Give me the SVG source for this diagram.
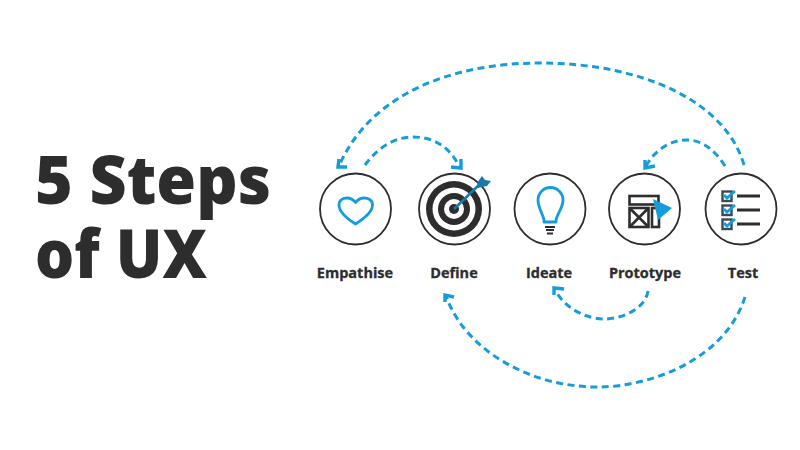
<svg xmlns="http://www.w3.org/2000/svg" width="800" height="450" viewBox="0 0 800 450">
<style>
.t{font-family:"Open Sans","Noto Sans","Liberation Sans",sans-serif;font-weight:800;fill:#2d2d2d}
.h{font-size:67px}
.l{font-size:14.5px;font-weight:700;text-anchor:middle;stroke:#2d2d2d;stroke-width:.3}
.c{fill:#fff;stroke:#2d2d2d;stroke-width:1.8}
.d{fill:none;stroke:#149cdb;stroke-width:3;stroke-dasharray:7 4.5}
.a{fill:none;stroke:#149cdb;stroke-width:3.4}
.ic{fill:none;stroke:#149cdb;stroke-width:2.8;stroke-linejoin:round}
.k{fill:none;stroke:#2d2d2d;stroke-width:2.6}
</style>
<rect width="800" height="450" fill="#fff"/>
<g id="title">
<text class="t h" x="35" y="204" textLength="236" lengthAdjust="spacingAndGlyphs">5 Steps</text>
<text class="t h" x="35" y="278" textLength="172" lengthAdjust="spacingAndGlyphs">of UX</text>
</g>
<g id="connectors">
<path class="d" d="M744 165C725 100 640 63 540 63C450 63 370 95 339 166"/>
<path class="a" d="M339 159L338 167L347 167"/>
<path class="d" d="M365 165C378 147 395 137 413 137C435 137 450 148 459 166"/>
<path class="a" d="M451 167L461 168L461 159"/>
<path class="d" d="M725 166C715 150 702 140 687 140C670 140 655 150 646 166"/>
<path class="a" d="M645 160L645 168L655 166"/>
<path class="d" d="M745 297C725 360 650 387 597 387C530 387 465 350 446 296"/>
<path class="a" d="M445 302L445 295L454 297"/>
<path class="d" d="M648 291C645 310 620 319 605 319C585 319 565 308 555 290"/>
<path class="a" d="M554 295L554 288L564 289"/>
</g>
<g id="empathise">
<circle class="c" cx="355.500" cy="209" r="35.500"/>
<path class="ic" d="M355.500 224C346 218 339 212 339 205C339 200 343 198 347 198C350.500 198 353.500 200 355.500 202.500C357.500 200 360.500 198 364 198C368.500 198 372.500 200 372.500 205C372.500 212 365 218 355.500 224Z"/>
<text class="t l" x="355" y="278">Empathise</text>
</g>
<g id="define">
<circle class="c" cx="454.500" cy="209" r="35.500"/>
<circle cx="454" cy="209" r="28" fill="#2d2d2d"/>
<circle cx="454" cy="209" r="21.500" fill="#fff"/>
<circle cx="454" cy="209" r="16" fill="#2d2d2d"/>
<circle cx="454" cy="209" r="10" fill="#fff"/>
<circle cx="454" cy="209" r="5" fill="#2d2d2d"/>
<path d="M454 209L480 184" fill="none" stroke="#1779a8" stroke-width="2.600"/>
<path d="M478 188L477 183L482 176L485 180L491 181L487 186L482 187Z" fill="#1779a8"/>
<text class="t l" x="454" y="278">Define</text>
</g>
<g id="ideate">
<circle class="c" cx="550" cy="209" r="35.500"/>
<path class="ic" d="M544 222L544 220C543 214 538 208 538 200A12.500 12.500 0 0 1 563 200C563 208 557 214 556 220L556 222Z"/>
<path d="M545 227H555M546 230H554M547 233.500H553" fill="none" stroke="#2d2d2d" stroke-width="2"/>
<text class="t l" x="549" y="278">Ideate</text>
</g>
<g id="prototype">
<circle class="c" cx="644.500" cy="209" r="35.500"/>
<rect class="k" x="629.500" y="196" width="29" height="8.500"/>
<rect class="k" x="629.500" y="208" width="19" height="19"/>
<path class="k" d="M629.500 208L648.500 227M648.500 208L629.500 227"/>
<rect class="k" x="652" y="208" width="7" height="19"/>
<path d="M653 199L672 208L658 220Z" fill="#149cdb"/>
<text class="t l" x="645" y="278">Prototype</text>
</g>
<g id="test">
<circle class="c" cx="741" cy="209" r="35.500"/>
<g fill="none" stroke="#3a4a55" stroke-width="2.400">
<rect x="722.500" y="191.500" width="9" height="9.500"/>
<rect x="722.500" y="205.500" width="9" height="9.500"/>
<rect x="722.500" y="219.500" width="9" height="9.500"/>
</g>
<path d="M737 196H760M737 210H760M737 224H760" fill="none" stroke="#2d2d2d" stroke-width="2.800"/>
<path d="M724 195L727 198L735 191M724 209L727 212L735 205M724 223L727 226L735 219" fill="none" stroke="#149cdb" stroke-width="2.800"/>
<text class="t l" x="743" y="278">Test</text>
</g>
</svg>
